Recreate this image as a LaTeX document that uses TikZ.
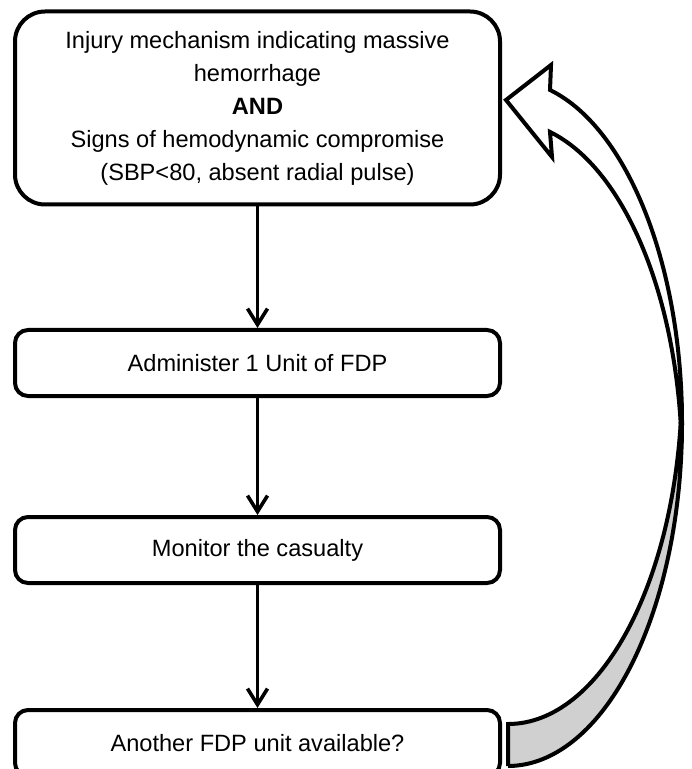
\documentclass[tikz,border=0pt]{standalone}
\usepackage{fontspec}
\setmainfont{Liberation Sans}
\usetikzlibrary{arrows.meta}
\definecolor{backgray}{RGB}{208,208,208}

\tikzset{
  stepbox/.style={draw,line width=2pt,rounded corners=6.5pt,
    minimum width=242.5pt,minimum height=33pt,inner sep=0pt,align=center},
  flow/.style={line width=1.8pt,-{Straight Barb[length=8pt,width=10pt]}},
  bigarrow/.style={line width=2pt,line join=miter}
}

\begin{document}
\begin{tikzpicture}[x=0.5pt,y=-0.5pt,font=\fontsize{11.8}{16.5}\selectfont]

\useasboundingbox (0,0) rectangle (691,769);

% Entry criteria
\node[stepbox,rounded corners=15pt,minimum height=96.5pt] (criteria) at (257.5,108)
{Injury mechanism indicating massive\\hemorrhage\\\textbf{AND}\\Signs of hemodynamic compromise\\(SBP<80, absent radial pulse)};

% Steps
\node[stepbox] (administer) at (257.5,363) {Administer 1 Unit of FDP};
\node[stepbox] (monitor) at (257.5,550) {Monitor the casualty};
\node[stepbox] (another) at (257.5,743) {Another FDP unit available?};

\draw[flow] (criteria) -- (administer);
\draw[flow] (administer) -- (monitor);
\draw[flow] (monitor) -- (another);

% Return arrow, back part
\draw[bigarrow,fill=backgray] (508,766) -- (508,724)
  arc[start angle=90,end angle=3.51,x radius=174,y radius=343]
  arc[start angle=-3.51,end angle=90,x radius=174,y radius=343] -- cycle;

% Return arrow, front part
\draw[bigarrow,fill=white] (506,100) -- (551,65) -- (550,90)
  arc[start angle=-76.03,end angle=3.51,x radius=174,y radius=343]
  arc[start angle=-3.51,end angle=-76.03,x radius=174,y radius=343]
  -- (552,157) -- cycle;

\end{tikzpicture}
\end{document}
